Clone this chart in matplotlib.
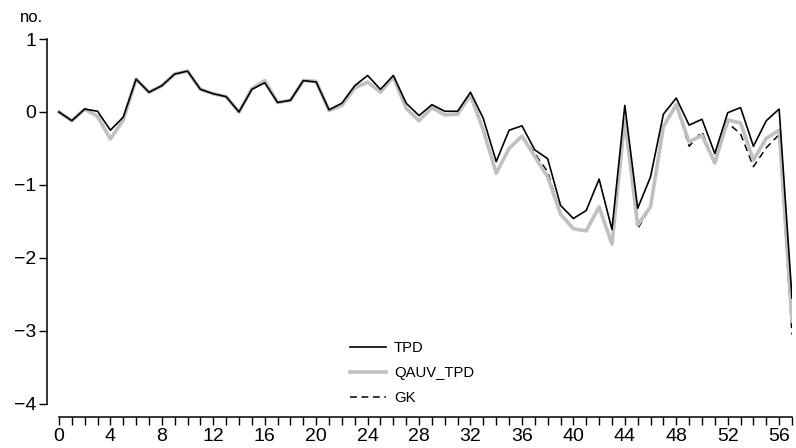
import matplotlib
matplotlib.use("Agg")
import matplotlib.pyplot as plt
import numpy as np

plt.rcParams['font.family'] = ['Liberation Sans', 'DejaVu Sans']

periods = list(range(58))
tpd = [0.0, -0.12, 0.04, 0.01, -0.25, -0.07, 0.45, 0.27, 0.36, 0.52,
       0.56, 0.31, 0.25, 0.21, 0.0, 0.31, 0.40, 0.13, 0.16, 0.43,
       0.41, 0.03, 0.12, 0.36, 0.50, 0.31, 0.50, 0.12, -0.05, 0.10,
       0.01, 0.01, 0.27, -0.09, -0.68, -0.25, -0.19, -0.52, -0.64, -1.28,
       -1.46, -1.35, -0.92, -1.61, 0.09, -1.32, -0.89, -0.03, 0.19, -0.18,
       -0.10, -0.57, -0.01, 0.06, -0.47, -0.12, 0.04, -2.55]
qauv_tpd = [0.0, -0.12, 0.04, -0.06, -0.37, -0.11, 0.45, 0.27, 0.36, 0.52,
            0.56, 0.31, 0.25, 0.21, 0.0, 0.32, 0.43, 0.13, 0.16, 0.43,
            0.42, 0.02, 0.09, 0.33, 0.41, 0.27, 0.48, 0.05, -0.12, 0.06,
            -0.04, -0.03, 0.23, -0.25, -0.84, -0.50, -0.33, -0.61, -0.89, -1.40,
            -1.60, -1.63, -1.30, -1.81, -0.10, -1.55, -1.30, -0.20, 0.10, -0.41,
            -0.32, -0.70, -0.11, -0.15, -0.66, -0.36, -0.25, -2.87]
gk = [0.0, -0.12, 0.04, -0.06, -0.37, -0.11, 0.45, 0.27, 0.36, 0.52,
      0.56, 0.31, 0.25, 0.21, 0.0, 0.32, 0.43, 0.13, 0.16, 0.43,
      0.42, 0.02, 0.09, 0.33, 0.41, 0.27, 0.48, 0.05, -0.12, 0.06,
      -0.04, -0.03, 0.23, -0.25, -0.84, -0.50, -0.33, -0.57, -0.82, -1.40,
      -1.60, -1.63, -1.30, -1.81, -0.10, -1.60, -1.30, -0.20, 0.10, -0.47,
      -0.27, -0.70, -0.15, -0.30, -0.75, -0.49, -0.31, -3.05]

fig = plt.figure(figsize=(7.96, 4.48), dpi=100)
ax = fig.add_axes([47/796, (448-417)/448, 745/796, (417-39)/448])

l_gk, = ax.plot(periods, gk, color='black', lw=1.1, ls=(0, (4.5, 3)), zorder=2, label='GK')
l_q, = ax.plot(periods, qauv_tpd, color='#c0c0c0', lw=2.6, zorder=3, label='QAUV_TPD')
l_t, = ax.plot(periods, tpd, color='black', lw=1.2, zorder=4, label='TPD')

ax.set_xlim(-0.93, 57)
ax.set_ylim(-4.18, 1.0)

for s in ['top', 'right']:
    ax.spines[s].set_visible(False)
ax.spines['left'].set_bounds(-4, 1)
ax.spines['bottom'].set_bounds(0, 57)
ax.spines['left'].set_linewidth(1.1)
ax.spines['bottom'].set_linewidth(1.1)

ax.set_xticks(periods)
ax.set_xticklabels([str(p) if p % 4 == 0 else '' for p in periods])
ax.set_yticks([-4, -3, -2, -1, 0, 1])
ax.set_yticklabels(['\u22124', '\u22123', '\u22122', '\u22121', '0', '1'])
ax.tick_params(axis='both', direction='out', length=6, width=1.0, labelsize=14, pad=2)

fig.text(20/796, 1 - 18/448, 'no.', fontsize=12, va='center', ha='left')

ax.legend(handles=[l_t, l_q, l_gk], loc='upper left',
          bbox_to_anchor=((350-47)/745, (417-341)/378), frameon=False,
          fontsize=10.7, handlelength=2.4, handletextpad=0.55, labelspacing=0.75,
          borderaxespad=0, borderpad=0)

fig.savefig('out.png', dpi=100)
